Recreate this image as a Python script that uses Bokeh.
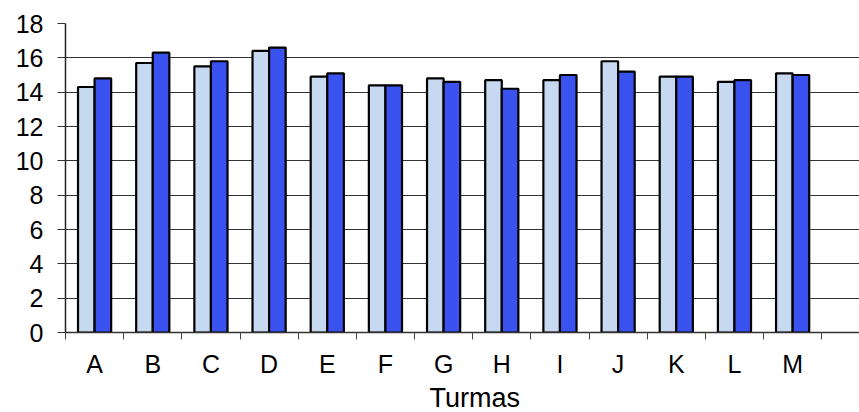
from bokeh.plotting import figure
from bokeh.models import Range1d, FixedTicker, Title, ColumnDataSource
from bokeh.embed import file_html
from bokeh.resources import INLINE

categories = ["A", "B", "C", "D", "E", "F", "G", "H", "I", "J", "K", "L", "M"]
series1 = [14.3, 15.7, 15.5, 16.4, 14.9, 14.4, 14.8, 14.7, 14.7, 15.8, 14.9, 14.6, 15.1]
series2 = [14.8, 16.3, 15.8, 16.6, 15.1, 14.4, 14.6, 14.2, 15.0, 15.2, 14.9, 14.7, 15.0]
y_ticks = [0, 2, 4, 6, 8, 10, 12, 14, 16, 18]
x_title = "Turmas"

FONT = "Liberation Sans"
W, H = 859, 412

p = figure(width=W, height=H, output_backend="svg", toolbar_location=None,
           x_range=Range1d(0, 794 / 58.17), y_range=Range1d(0, 18),
           min_border_left=65, min_border_right=0, min_border_top=23, min_border_bottom=79)
p.outline_line_color = None
p.background_fill_color = "white"

centers = [i + 0.5 for i in range(len(categories))]
bw = 0.285
src1 = ColumnDataSource(dict(x=[c - bw / 2 for c in centers], top=series1))
src2 = ColumnDataSource(dict(x=[c + bw / 2 for c in centers], top=series2))
p.vbar(x="x", top="top", bottom=0, width=bw, source=src1,
       fill_color="#C6D9F1", line_color="black", line_width=2.2)
p.vbar(x="x", top="top", bottom=0, width=bw, source=src2,
       fill_color="#3A52F0", line_color="black", line_width=2.2)

# x axis: labels at centers, ticks at boundaries
xa = p.xaxis[0]
xa.ticker = FixedTicker(ticks=centers, minor_ticks=list(range(len(categories) + 1)))
xa.major_label_overrides = {c: lab for c, lab in zip(centers, categories)}
xa.major_tick_line_color = None
xa.major_tick_out = 7
xa.major_tick_in = 0
xa.minor_tick_line_color = "#444444"
xa.minor_tick_out = 7
xa.minor_tick_in = 0
xa.axis_line_color = "#333333"
xa.axis_line_width = 1.5
xa.major_label_text_font = FONT
xa.major_label_text_font_size = "25px"
xa.major_label_text_color = "black"
xa.major_label_standoff = 10

ya = p.yaxis[0]
ya.ticker = FixedTicker(ticks=y_ticks)
ya.minor_tick_line_color = None
ya.major_tick_out = 8
ya.major_tick_in = 0
ya.major_tick_line_color = "#333333"
ya.axis_line_color = "#222222"
ya.axis_line_width = 1.5
ya.major_label_text_font = FONT
ya.major_label_text_font_size = "25px"
ya.major_label_text_color = "black"
ya.major_label_standoff = 14

p.xgrid.grid_line_color = None
p.ygrid.ticker = FixedTicker(ticks=y_ticks[1:])
p.ygrid.grid_line_color = "#333333"
p.ygrid.grid_line_width = 1.2

p.add_layout(Title(text=x_title, align="left", offset=364, standoff=0,
                   text_font=FONT, text_font_size="27px", text_font_style="normal",
                   text_color="black"), "below")

open("out.html", "w").write(file_html(p, INLINE))
